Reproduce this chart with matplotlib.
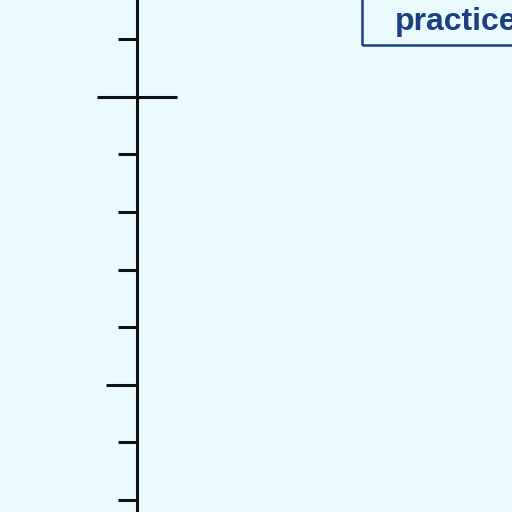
import matplotlib
matplotlib.use("Agg")
import matplotlib.pyplot as plt
from matplotlib.patches import Rectangle

# number line values, top to bottom
tick_values = [8, 7, 6, 5, 4, 3, 2, 1, 0]
marked_value = 7      # the crossed tick
long_tick_value = 2   # the longer tick
label_text = "practice"

bg = "#e9fbfe"
ink = "#111111"
blue = "#1c3f80"

fig = plt.figure(figsize=(5.12, 5.12), dpi=100, facecolor=bg)
ax = fig.add_axes([0, 0, 1, 1])
ax.set_facecolor(bg)
ax.set_xlim(0, 512)
ax.set_ylim(-0.208, 8.677)
ax.axis("off")

line_x = 137
ax.plot([line_x, line_x], [-0.3, 9], color=ink, lw=2.2, solid_capstyle="butt")

for v in tick_values:
    if v == marked_value:
        ax.hlines(v, 97, 177, color=ink, lw=2.2)
    elif v == long_tick_value:
        ax.hlines(v, 106, line_x, color=ink, lw=2.2)
    else:
        ax.hlines(v, 118, line_x, color=ink, lw=2.2)

# label box (cut off at top-right)
box_bottom = 8.677 - 45 / 57.6
ax.add_patch(Rectangle((362, box_bottom), 200, 2, fill=False,
                       edgecolor=blue, lw=1.8, clip_on=True))
ax.text(395, 8.677 - 30 / 57.6, label_text, color=blue,
        fontsize=23, family="Liberation Sans", weight="bold",
        va="baseline", ha="left")

fig.savefig("out.png", dpi=100, facecolor=bg)
